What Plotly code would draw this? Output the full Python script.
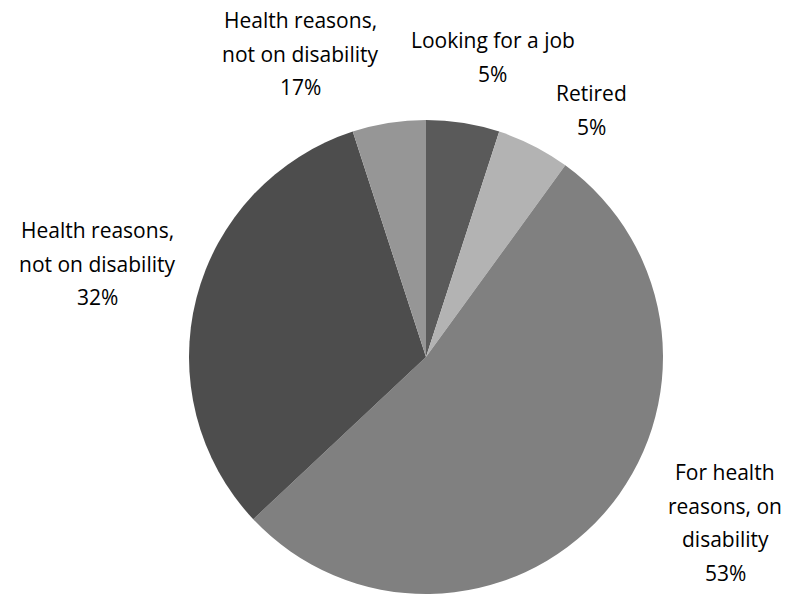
import plotly.graph_objects as go

categories = ["Looking for a job", "Retired", "For health reasons, on disability",
              "Health reasons, not on disability", "Health reasons, not on disability (b)"]
values = [5, 5, 53, 32, 5]
pct_labels = ["5%", "5%", "53%", "32%", "17%"]
colors = ["#5a5a5a", "#b3b3b3", "#808080", "#4d4d4d", "#969696"]

# label lines and their centre positions (pixels in a 799x601 frame)
label_lines = [
    (["Looking for a job", pct_labels[0]], 493, 40),
    (["Retired", pct_labels[1]], 591, 93),
    (["For health", "reasons, on", "disability", pct_labels[2]], 725, 472),
    (["Health reasons,", "not on disability", pct_labels[3]], 97, 230),
    (["Health reasons,", "not on disability", pct_labels[4]], 300, 20),
]

W, H = 799, 601
off = 8  # page body margin
cx, cy, r = 426 - off, 357 - off, 237

fig = go.Figure(go.Pie(
    labels=categories,
    values=values,
    marker=dict(colors=colors, line=dict(width=0)),
    sort=False,
    direction="clockwise",
    rotation=0,
    textinfo="none",
    hoverinfo="skip",
    domain=dict(x=[(cx - r) / W, (cx + r) / W], y=[1 - (cy + r) / H, 1 - (cy - r) / H]),
    showlegend=False,
))

line_h = 33.7
for lines, x, y0 in label_lines:
    for i, t in enumerate(lines):
        fig.add_annotation(
            x=(x - off) / W, y=1 - (y0 - off + i * line_h) / H, xref="paper", yref="paper",
            text=t, showarrow=False, xanchor="center", yanchor="middle",
            font=dict(family="Open Sans", size=21, color="#000000"),
        )

fig.update_layout(
    width=W, height=H,
    margin=dict(l=0, r=0, t=0, b=0),
    paper_bgcolor="white", plot_bgcolor="white",
)

fig.write_html("out.html")
